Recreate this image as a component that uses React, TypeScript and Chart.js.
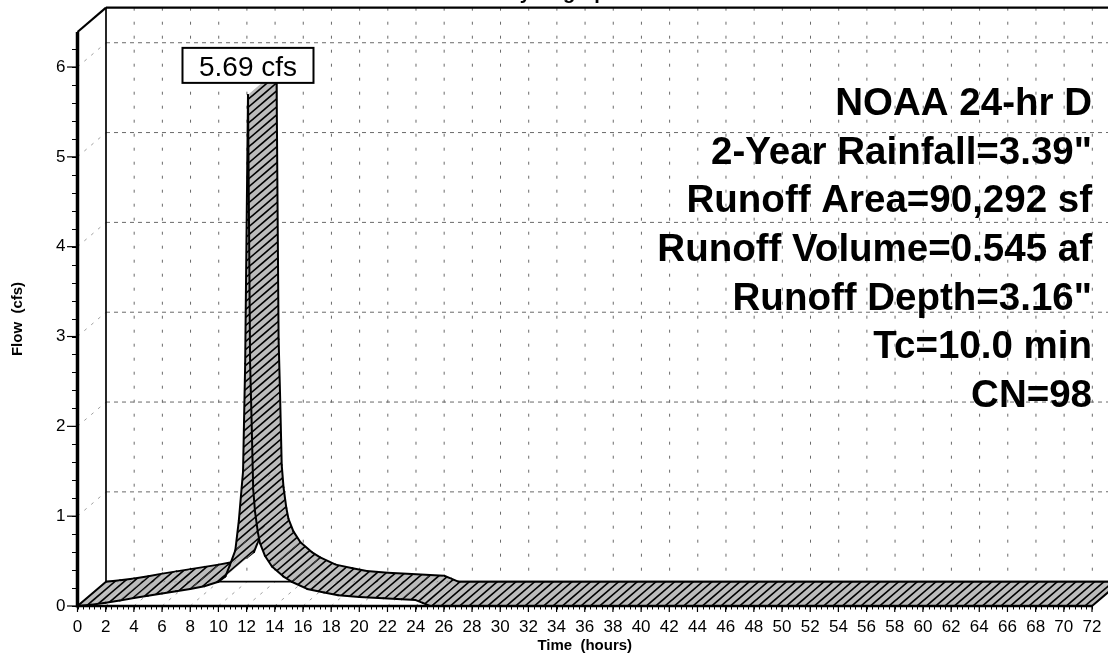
import React, { useEffect, useRef } from 'react';
import { Chart, registerables } from 'chart.js';

Chart.register(...registerables);

// ---------- data ----------
const hours = [0, 1, 2, 3, 4, 5, 6, 7, 8, 9, 10, 10.5, 10.8, 11.2, 11.45, 11.75, 11.9, 12.1, 12.25, 12.35, 12.47, 12.6, 12.8, 12.95, 13.3, 13.8, 14.6, 15.2, 16.3, 17.5, 18.5, 20, 21.7, 23, 24, 24.5, 25, 72];
const flow = [0, 0.015, 0.035, 0.06, 0.09, 0.115, 0.14, 0.165, 0.19, 0.22, 0.27, 0.33, 0.45, 0.62, 0.95, 1.5, 2.7, 5.69, 2.7, 2.1, 1.3, 1.05, 0.82, 0.7, 0.56, 0.44, 0.33, 0.27, 0.19, 0.15, 0.12, 0.1, 0.086, 0.075, 0.066, 0.035, 0, 0];

const xTicks = [0, 2, 4, 6, 8, 10, 12, 14, 16, 18, 20, 22, 24, 26, 28, 30, 32, 34, 36, 38, 40, 42, 44, 46, 48, 50, 52, 54, 56, 58, 60, 62, 64, 66, 68, 70, 72];
const yTicks = [0, 1, 2, 3, 4, 5, 6];
const peakLabel = '5.69 cfs';
const infoLines = [
  'NOAA 24-hr D',
  '2-Year Rainfall=3.39"',
  'Runoff Area=90,292 sf',
  'Runoff Volume=0.545 af',
  'Runoff Depth=3.16"',
  'Tc=10.0 min',
  'CN=98',
];
const chartTitle = 'Hydrograph';
const xTitle = 'Time  (hours)';
const yTitle = 'Flow  (cfs)';

const X_MAX = 72;
const Y_MAX = 6.39;
const DX = 28.5;
const DY = -24.3;
const FONT = '"Liberation Sans", Arial, sans-serif';

function seg(ctx: CanvasRenderingContext2D, x1: number, y1: number, x2: number, y2: number) {
  ctx.beginPath();
  ctx.moveTo(x1, y1);
  ctx.lineTo(x2, y2);
  ctx.stroke();
}

let hatchCache: CanvasPattern | null = null;
function getHatch(ctx: CanvasRenderingContext2D): CanvasPattern | string {
  if (hatchCache) return hatchCache;
  const W = 28, H = 24;
  const c = document.createElement('canvas');
  c.width = W;
  c.height = H;
  const g = c.getContext('2d');
  if (!g) return '#b8b8b8';
  g.fillStyle = '#bcbcbc';
  g.fillRect(0, 0, W, H);
  g.strokeStyle = '#000';
  g.lineWidth = 1.7;
  const step = W / 3;
  const r = W / H;
  for (let k = -4; k <= 10; k++) {
    const cc = k * step;
    g.beginPath();
    g.moveTo(cc + r * 2, -2);
    g.lineTo(cc - r * (H + 2), H + 2);
    g.stroke();
  }
  const p = ctx.createPattern(c, 'repeat');
  if (p) hatchCache = p;
  return p || '#b8b8b8';
}

const ribbonPlugin = {
  id: 'ribbon3d',
  beforeDatasetsDraw(chart: any) {
    const { ctx, chartArea: ca, scales } = chart;
    const xs = scales.x, ys = scales.y;
    const W = chart.width;
    const backLeft = ca.left + DX;
    const backTop = ca.top + DY;
    const backBottom = ca.bottom + DY;
    ctx.save();
    ctx.fillStyle = '#fff';
    ctx.fillRect(0, 0, chart.width, chart.height);

    // back wall grid
    ctx.lineWidth = 1;
    ctx.strokeStyle = '#6a6a6a';
    ctx.setLineDash([3, 11]);
    for (const t of xTicks) {
      if (t === 0) continue;
      const px = xs.getPixelForValue(t) + DX;
      seg(ctx, px, backTop, px, backBottom);
    }
    ctx.setLineDash([4, 4]);
    for (const v of yTicks) {
      if (v === 0) continue;
      const py = ys.getPixelForValue(v) + DY;
      seg(ctx, backLeft, py, W, py);
    }
    // left wall / floor depth lines
    ctx.strokeStyle = '#a0a0a0';
    ctx.setLineDash([3, 6]);
    for (const v of yTicks) {
      if (v === 0) continue;
      const py = ys.getPixelForValue(v);
      seg(ctx, ca.left, py, ca.left + DX, py + DY);
    }
    for (const t of xTicks) {
      if (t === 0) continue;
      const px = xs.getPixelForValue(t);
      seg(ctx, px, ca.bottom, px + DX, ca.bottom + DY);
    }
    ctx.setLineDash([]);

    // frame
    ctx.strokeStyle = '#000';
    ctx.lineWidth = 2.2;
    seg(ctx, backLeft, backTop, W, backTop);
    seg(ctx, ca.left, ca.top, backLeft, backTop);
    ctx.lineWidth = 1.7;
    seg(ctx, backLeft, backTop, backLeft, backBottom);
    seg(ctx, backLeft, backBottom, W, backBottom);

    // ribbon
    const meta = chart.getDatasetMeta(0);
    const pts = meta.data.map((e: any) => ({ x: e.x, y: e.y }));
    const hatch = getHatch(ctx);
    ctx.lineJoin = 'round';
    ctx.lineCap = 'round';
    for (let i = 0; i < pts.length - 1; i++) {
      const a = pts[i], b = pts[i + 1];
      ctx.beginPath();
      ctx.moveTo(a.x, a.y);
      ctx.lineTo(b.x, b.y);
      ctx.lineTo(b.x + DX, b.y + DY);
      ctx.lineTo(a.x + DX, a.y + DY);
      ctx.closePath();
      ctx.fillStyle = hatch;
      ctx.fill();
      ctx.strokeStyle = '#000';
      ctx.lineWidth = 2;
      ctx.beginPath();
      ctx.moveTo(a.x, a.y);
      ctx.lineTo(b.x, b.y);
      ctx.moveTo(a.x + DX, a.y + DY);
      ctx.lineTo(b.x + DX, b.y + DY);
      ctx.stroke();
    }
    const first = pts[0], last = pts[pts.length - 1];
    seg(ctx, first.x, first.y, first.x + DX, first.y + DY);
    seg(ctx, last.x, last.y, last.x + DX, last.y + DY);
    ctx.restore();
  },
  afterDatasetsDraw(chart: any) {
    const { ctx, chartArea: ca, scales } = chart;
    const xs = scales.x, ys = scales.y;
    ctx.save();
    ctx.strokeStyle = '#000';
    ctx.fillStyle = '#000';

    // x axis
    ctx.lineWidth = 2.4;
    seg(ctx, ca.left, ca.bottom, xs.getPixelForValue(X_MAX), ca.bottom);
    ctx.lineWidth = 1;
    for (let t = 0; t <= X_MAX + 1e-6; t += 0.4) {
      const px = Math.round(xs.getPixelForValue(t)) + 0.5;
      seg(ctx, px, ca.bottom, px, ca.bottom + 3.5);
    }
    ctx.font = `17px ${FONT}`;
    ctx.textAlign = 'center';
    ctx.textBaseline = 'middle';
    for (const t of xTicks) {
      const px = xs.getPixelForValue(t);
      ctx.lineWidth = 1.2;
      seg(ctx, px, ca.bottom, px, ca.bottom + 6);
      ctx.fillText(String(t), px, ca.bottom + 21.5);
    }

    // y axis
    ctx.lineWidth = 3.5;
    seg(ctx, ca.left, ca.top, ca.left, ca.bottom + 1.5);
    ctx.lineWidth = 1;
    for (let v = 0; v <= Y_MAX + 1e-6; v += 0.2) {
      const py = Math.round(ys.getPixelForValue(v)) + 0.5;
      seg(ctx, ca.left - 5.5, py, ca.left, py);
    }
    ctx.textAlign = 'right';
    for (const v of yTicks) {
      const py = ys.getPixelForValue(v);
      ctx.lineWidth = 1.2;
      seg(ctx, ca.left - 10.5, py, ca.left, py);
      ctx.fillText(String(v), ca.left - 12, py);
    }

    // axis titles
    ctx.font = `bold 15px ${FONT}`;
    ctx.textAlign = 'center';
    ctx.textBaseline = 'middle';
    ctx.fillText(xTitle, (ca.left + ca.right) / 2, ca.bottom + 40);
    ctx.save();
    ctx.translate(18, (ca.top + ca.bottom) / 2);
    ctx.rotate(-Math.PI / 2);
    ctx.fillText(yTitle, 0, 0);
    ctx.restore();

    // chart title (cut off at the top edge)
    ctx.font = `bold 20px ${FONT}`;
    ctx.textBaseline = 'alphabetic';
    ctx.fillText(chartTitle, 562, -1);

    // peak label
    const meta = chart.getDatasetMeta(0);
    let pi = 0;
    for (let i = 1; i < flow.length; i++) if (flow[i] > flow[pi]) pi = i;
    const pk = meta.data[pi];
    const bw = 131, bh = 35;
    const bx = pk.x - bw / 2;
    const by = pk.y - 12 - bh;
    ctx.fillStyle = '#fff';
    ctx.fillRect(bx, by, bw, bh);
    ctx.lineWidth = 2;
    ctx.strokeStyle = '#000';
    ctx.strokeRect(bx, by, bw, bh);
    ctx.fillStyle = '#000';
    ctx.font = `28px ${FONT}`;
    ctx.textAlign = 'center';
    ctx.textBaseline = 'alphabetic';
    ctx.fillText(peakLabel, pk.x, by + 28);

    // info text
    ctx.font = `bold 38.5px ${FONT}`;
    ctx.textAlign = 'right';
    infoLines.forEach((s, i) => {
      ctx.fillText(s, ca.right, 115 + i * 48.67);
    });
    ctx.restore();
  },
};

export default function App() {
  const ref = useRef<HTMLCanvasElement>(null);
  useEffect(() => {
    const canvas = ref.current;
    if (!canvas) return;
    const chart = new Chart(canvas, {
      type: 'line',
      data: {
        datasets: [
          {
            label: 'Runoff',
            data: hours.map((h, i) => ({ x: h, y: flow[i] })),
            borderColor: 'rgba(0,0,0,0)',
            backgroundColor: 'rgba(0,0,0,0)',
            borderWidth: 0,
            pointRadius: 0,
            tension: 0,
            fill: false,
          },
        ],
      },
      options: {
        responsive: false,
        animation: false,
        events: [],
        layout: { padding: { left: 77.5, right: 16, top: 32, bottom: 54 } },
        scales: {
          x: { type: 'linear', min: 0, max: X_MAX, display: false, ticks: { stepSize: 2 } },
          y: { type: 'linear', min: 0, max: Y_MAX, display: false, ticks: { stepSize: 1, includeBounds: false } },
        },
        plugins: {
          legend: { display: false },
          tooltip: { enabled: false },
        },
      },
      plugins: [ribbonPlugin],
    } as any);
    return () => chart.destroy();
  }, []);
  return (
    <div style={{ position: 'absolute', left: 0, top: 0, width: 1108, height: 660, background: '#fff' }}>
      <canvas ref={ref} width={1108} height={660} style={{ display: 'block' }} />
    </div>
  );
}
